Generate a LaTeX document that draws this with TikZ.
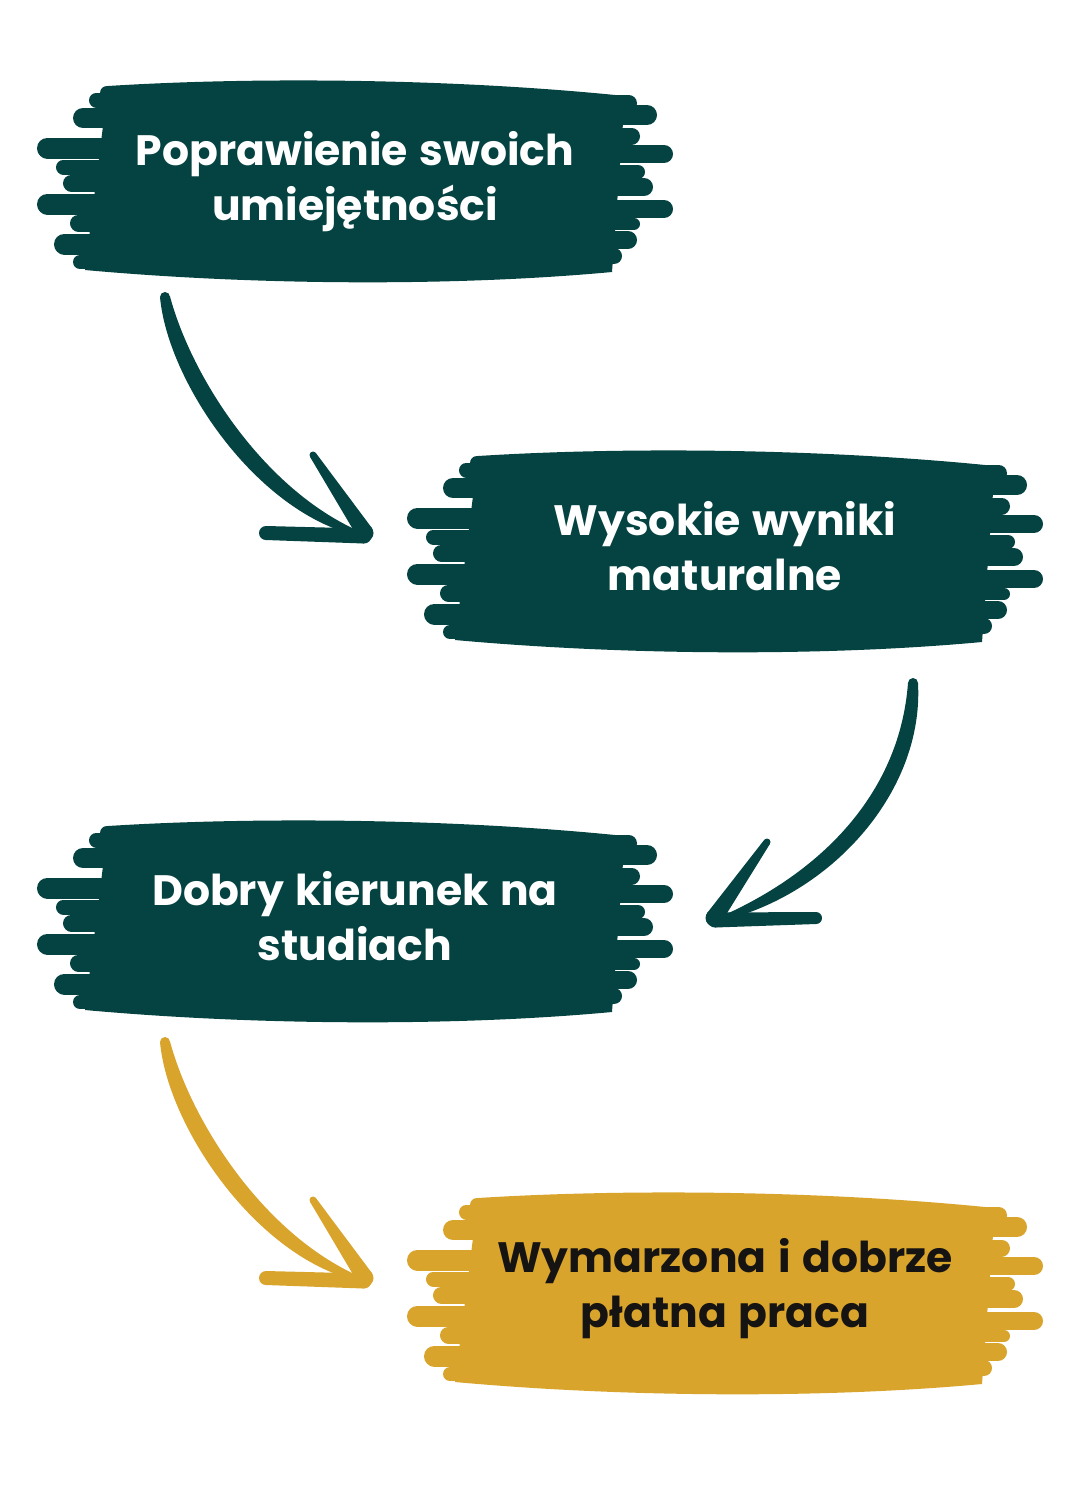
\documentclass[tikz,border=0pt]{standalone}
\usepackage{fontspec}
\setmainfont{Poppins}[WordSpace=1.3]
\usetikzlibrary{calc}
\definecolor{brushteal}{RGB}{4,67,65}
\definecolor{brushgold}{RGB}{217,164,44}
\definecolor{inkdark}{RGB}{22,20,18}
\newcommand\bstroke[4]{\draw[line width=#4pt] ({#2+#4/2},#1) -- ({#3-#4/2},#1);}
\newcommand\brushbox[3]{%
\begin{scope}[shift={(#1,#2)}, fill=#3, draw=#3, line cap=round]
\fill (108,86) .. controls (250,77) and (450,78) .. (625,96) -- (612,272) .. controls (450,287) and (250,285) .. (85,270) -- cycle;
\bstroke{93}{100}{300}{14}
\bstroke{100}{89}{300}{15}
\bstroke{118}{73}{300}{20}
\bstroke{148}{37}{300}{21}
\bstroke{167}{56}{300}{15}
\bstroke{183}{63}{300}{17}
\bstroke{204}{37}{300}{21}
\bstroke{223}{70}{300}{17}
\bstroke{244}{54}{300}{21}
\bstroke{262}{73}{300}{14}
\bstroke{103}{400}{637}{17}
\bstroke{115}{400}{657}{20}
\bstroke{136}{400}{640}{17}
\bstroke{154}{400}{673}{18}
\bstroke{172}{400}{645}{14}
\bstroke{187}{400}{653}{18}
\bstroke{209}{400}{673}{18}
\bstroke{224}{400}{640}{12}
\bstroke{240}{400}{637}{18}
\bstroke{256}{400}{622}{16}
\bstroke{268}{400}{607}{10}
\end{scope}}
\newcommand\taper[4]{%
\fill ($(#1)!#3!90:(#2)$) -- ($(#2)!#4!-90:(#1)$) -- ($(#2)!#4!90:(#1)$) -- ($(#1)!#3!-90:(#2)$) -- cycle;
\fill (#1) circle (#3); \fill (#2) circle (#4);}
\tikzset{
  boxtext/.style={font=\fontsize{42.5}{55}\selectfont\bfseries, align=center, inner sep=0pt, anchor=north},
}
\newcommand\topstrut{\rule{0pt}{34pt}}
\newcommand\botstrut{\rule[-10pt]{0pt}{10pt}}
\begin{document}
\begin{tikzpicture}[x=1pt,y=-1pt]
\useasboundingbox[fill=white] (0,0) rectangle (1080,1500);
% boxes
\brushbox{0}{0}{brushteal}
\brushbox{370}{370}{brushteal}
\brushbox{0}{740}{brushteal}
\brushbox{370}{1112}{brushgold}
\node[boxtext, text=white] (b1) at (355,131) {\topstrut Poprawienie swoich\\umiejętności\botstrut};
\node[boxtext, text=white] (b2) at (725,501) {\topstrut Wysokie wyniki\\maturalne\botstrut};
\node[boxtext, text=white] (b3) at (355,871) {\topstrut Dobry kierunek na\\studiach\botstrut};
\node[boxtext, text=inkdark] (b4) at (725,1238) {\topstrut Wymarzona i dobrze\\płatna praca\botstrut};
% arrow 1 (teal)
\begin{scope}[fill=brushteal]
\fill (160.1,297.9) .. controls (168.2,382.1) and (256.1,511.4) .. (356.2,535.4)
  -- (357.8,530.6) .. controls (263.9,488.6) and (191.8,377.9) .. (169.9,296.1) -- cycle;
\coordinate (a1s) at (165,297);
\fill (a1s) circle (5pt);
\coordinate (a1u) at (313,455);
\coordinate (a1t) at (365,533);
\coordinate (a1l) at (266,533);
\coordinate (a1t2) at (364,536);
\taper{a1u}{a1t}{3.5pt}{8.5pt}
\taper{a1l}{a1t2}{7pt}{7.5pt}
\end{scope}
% arrow 2 (teal)
\begin{scope}[fill=brushteal]
\fill (918,683) .. controls (924,790.1) and (834,891.3) .. (726.8,919.4)
  -- (725.2,914.6) .. controls (826,868.7) and (900,789.9) .. (908,683) -- cycle;
\coordinate (a2s) at (913,683);
\fill (a2s) circle (5pt);
\coordinate (a2u) at (767,842);
\coordinate (a2t) at (714,918);
\coordinate (a2t2) at (715,920);
\coordinate (a2l) at (816,918);
\taper{a2u}{a2t}{3.5pt}{8.5pt}
\taper{a2t2}{a2l}{7.5pt}{6pt}
\end{scope}
% arrow 3 (gold)
\begin{scope}[fill=brushgold, shift={(0,745)}]
\fill (160.1,297.9) .. controls (168.2,382.1) and (256.1,511.4) .. (356.2,535.4)
  -- (357.8,530.6) .. controls (263.9,488.6) and (191.8,377.9) .. (169.9,296.1) -- cycle;
\coordinate (a3s) at (165,297);
\fill (a3s) circle (5pt);
\coordinate (a3u) at (313,455);
\coordinate (a3t) at (365,533);
\coordinate (a3l) at (266,533);
\coordinate (a3t2) at (364,536);
\taper{a3u}{a3t}{3.5pt}{8.5pt}
\taper{a3l}{a3t2}{7pt}{7.5pt}
\end{scope}
\end{tikzpicture}
\end{document}
